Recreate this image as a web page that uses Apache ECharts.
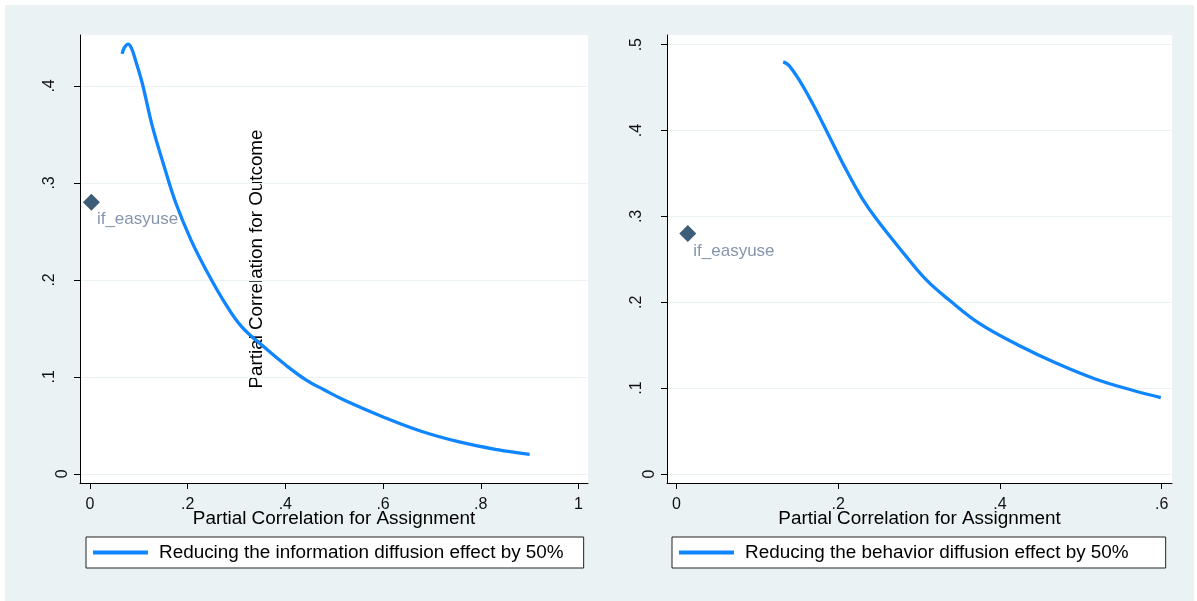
<!DOCTYPE html>
<html><head><meta charset="utf-8">
<script src="https://cdn.jsdelivr.net/npm/echarts@6/dist/echarts.min.js"></script>
<style>
html,body{margin:0;padding:0;background:#fff}
#bg{position:absolute;left:5px;top:5px;width:1189px;height:596px;background:#EAF2F3}
#c{position:absolute;left:0;top:0;width:1197px;height:601px}
</style>
</head><body><div id="bg"></div><div id="c"></div>
<script>
// ---- data ----
const infoX = [0.066, 0.070, 0.078, 0.085, 0.093, 0.107, 0.128, 0.152, 0.176, 0.207, 0.238, 0.273, 0.310, 0.356, 0.400, 0.442, 0.480, 0.521, 0.599, 0.678, 0.756, 0.834, 0.900];
const infoY = [0.433, 0.439, 0.443, 0.439, 0.427, 0.403, 0.358, 0.317, 0.279, 0.241, 0.210, 0.179, 0.152, 0.131, 0.1125, 0.097, 0.0865, 0.076, 0.059, 0.044, 0.033, 0.025, 0.020];
const behavX = [0.132, 0.139, 0.153, 0.168, 0.187, 0.210, 0.229, 0.248, 0.281, 0.309, 0.338, 0.375, 0.423, 0.470, 0.517, 0.564, 0.599];
const behavY = [0.480, 0.476, 0.457, 0.432, 0.397, 0.354, 0.322, 0.296, 0.257, 0.226, 0.202, 0.175, 0.150, 0.129, 0.111, 0.0975, 0.089];
const pointLeft = [0.003, 0.28];
const pointRight = [0.014, 0.28];
const pointLabel = 'if_easyuse';
const xTicksLeft = [0, 0.2, 0.4, 0.6, 0.8, 1];
const yTicksLeft = [0, 0.1, 0.2, 0.3, 0.4];
const xTicksRight = [0, 0.2, 0.4, 0.6];
const yTicksRight = [0, 0.1, 0.2, 0.3, 0.4, 0.5];
const seriesNames = ['Reducing the information diffusion effect by 50%', 'Reducing the behavior diffusion effect by 50%'];
const xTitle = 'Partial Correlation for Assignment';
const yTitle = 'Partial Correlation for Outcome';

// ---- styling ----
const FONT = '"Liberation Sans", Arial, Helvetica, sans-serif';
const BLUE = '#0f85ff';
const fmt = v => (v === 0 ? '0' : String(v).replace(/^0\./, '.'));
const zip = (xs, ys) => xs.map((x, i) => [x, ys[i]]);

function xAxis(gi, min, max, ticks) {
  return {
    type: 'value', gridIndex: gi, min: min, max: max,
    name: xTitle, nameLocation: 'middle', nameGap: 26, nameMoveOverlap: false,
    nameTextStyle: { fontSize: 18.9, color: '#000', fontFamily: FONT },
    axisLine: { show: true, onZero: false, lineStyle: { color: '#000', width: 1 } },
    axisTick: { show: true, length: 6, customValues: ticks, lineStyle: { color: '#000' } },
    axisLabel: { customValues: ticks, formatter: fmt, fontSize: 16, color: '#111', fontFamily: FONT, margin: 14 },
    splitLine: { show: false }
  };
}
// main y axis: line, ticks, grid lines, non-zero labels
function yAxis(gi, min, max, ticks) {
  return {
    type: 'value', gridIndex: gi, min: min, max: max, position: 'left',
    axisLine: { show: true, onZero: false, lineStyle: { color: '#000', width: 1 } },
    axisTick: { show: true, length: 6, customValues: ticks, lineStyle: { color: '#000' } },
    axisLabel: {
      customValues: ticks.filter(v => v !== 0), rotate: 90, align: 'center', verticalAlign: 'top', margin: 38,
      fontSize: 16, color: '#111', fontFamily: FONT, formatter: fmt
    },
    splitLine: { show: true, lineStyle: { color: '#EAF2F3', width: 1.2 } }
  };
}
// companion y axis carrying only the "0" label, set closer to the axis as in the reference
function yZeroAxis(gi, min, max) {
  return {
    type: 'value', gridIndex: gi, min: min, max: max, position: 'left', offset: 0,
    axisLine: { show: false }, axisTick: { show: false }, splitLine: { show: false },
    axisLabel: {
      customValues: [0], rotate: 90, align: 'center', verticalAlign: 'top', margin: 25,
      fontSize: 16, color: '#111', fontFamily: FONT, formatter: fmt
    }
  };
}
function legend(left, name, padR) {
  return {
    left: left, top: 537, data: [name], selectedMode: false,
    icon: 'rect', itemWidth: 55, itemHeight: 4, itemGap: 0,
    backgroundColor: '#fff', borderColor: '#222', borderWidth: 1, borderRadius: 0,
    padding: [6, padR, 6, 7],
    textStyle: { fontSize: 18.9, color: '#000', fontFamily: FONT, padding: [0, 0, 0, 6] }
  };
}
function marker(gi, pt) {
  return {
    type: 'scatter', xAxisIndex: gi, yAxisIndex: gi, data: [pt],
    symbol: 'diamond', symbolSize: 17, itemStyle: { color: '#3d5d78', opacity: 1 },
    label: { show: true, formatter: pointLabel, position: [14, 26], align: 'left', verticalAlign: 'middle',
             fontSize: 17, color: '#8596ac', fontFamily: FONT, opacity: 1 },
    silent: true, z: 3
  };
}

const chart = echarts.init(document.getElementById('c'), null, { renderer: 'canvas' });
chart.setOption({
  backgroundColor: 'transparent',
  animation: false,
  textStyle: { fontFamily: FONT },
  grid: [
    { left: 80, top: 35, width: 508, height: 448, show: true, backgroundColor: '#fff', borderWidth: 0 },
    { left: 667, top: 35, width: 505, height: 448, show: true, backgroundColor: '#fff', borderWidth: 0 }
  ],
  xAxis: [xAxis(0, -0.0203, 1.0195, xTicksLeft), xAxis(1, -0.0117, 0.6128, xTicksRight)],
  yAxis: [
    yAxis(0, -0.0094, 0.4525, yTicksLeft), yAxis(1, -0.0105, 0.5113, yTicksRight),
    yZeroAxis(0, -0.0094, 0.4525), yZeroAxis(1, -0.0105, 0.5113)
  ],
  legend: [legend(86, seriesNames[0], 20), legend(672, seriesNames[1], 37)],
  graphic: [{
    type: 'text', x: 256.5, y: 259, rotation: Math.PI / 2, silent: true,
    style: { text: yTitle, fontSize: 18.8, fill: '#000', fontFamily: FONT, align: 'center', verticalAlign: 'middle' }
  }],
  series: [
    { name: seriesNames[0], type: 'line', xAxisIndex: 0, yAxisIndex: 0, data: zip(infoX, infoY),
      showSymbol: false, smooth: 0.4, color: BLUE, lineStyle: { color: BLUE, width: 3.3 } },
    { name: seriesNames[1], type: 'line', xAxisIndex: 1, yAxisIndex: 1, data: zip(behavX, behavY),
      showSymbol: false, smooth: 0.4, color: BLUE, lineStyle: { color: BLUE, width: 3.3 } },
    marker(0, pointLeft),
    marker(1, pointRight)
  ]
});
</script>
</body></html>
